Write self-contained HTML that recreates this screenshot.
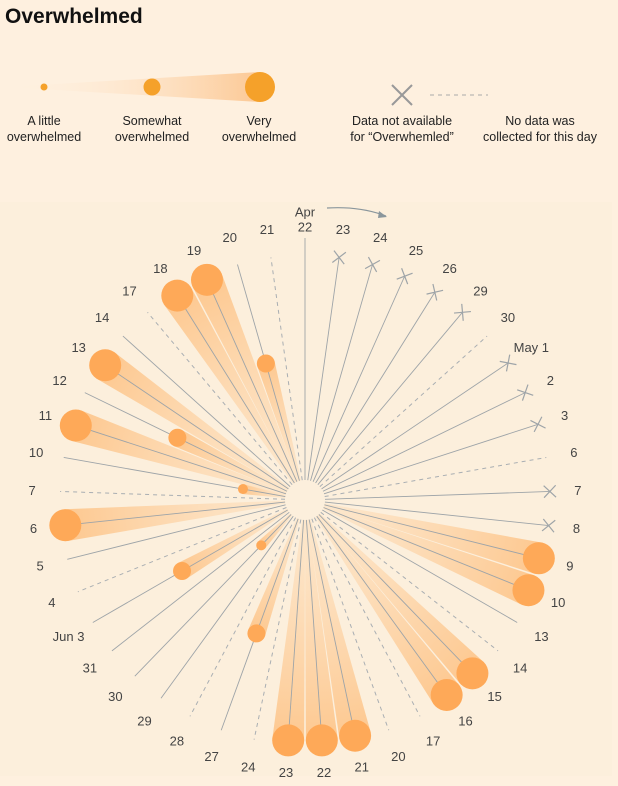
<!DOCTYPE html>
<html><head><meta charset="utf-8">
<style>
html,body{margin:0;padding:0;background:#fef0df;}
body{width:618px;height:786px;overflow:hidden;position:relative;font-family:"Liberation Sans",sans-serif;}
#title{position:absolute;left:5px;top:5px;font-size:21px;font-weight:bold;color:#111;}
.lg{position:absolute;font-size:12.5px;color:#222;text-align:center;line-height:16px;}
</style></head>
<body>
<div id="title">Overwhelmed</div>
<svg width="618" height="786" style="position:absolute;left:0;top:0">
<defs>
<linearGradient id="lgw" x1="0" y1="0" x2="1" y2="0">
<stop offset="0" stop-color="#fef0df" stop-opacity="0"/>
<stop offset="1" stop-color="#fcc894"/>
</linearGradient>
<linearGradient id="wg" x1="0" y1="1" x2="0" y2="0">
<stop offset="0" stop-color="#fde2c2" stop-opacity="0.6"/>
<stop offset="1" stop-color="#fdc890"/>
</linearGradient>
</defs>
<g>
<polygon points="5,87 260,72 260,102" fill="url(#lgw)"/>
<circle cx="44" cy="87" r="3.5" fill="#f5a12a"/>
<circle cx="152" cy="87" r="8.5" fill="#f5a12a"/>
<circle cx="260" cy="87" r="15" fill="#f5a12a"/>
<g stroke="#999" stroke-width="2"><line x1="392" y1="85" x2="412" y2="105"/><line x1="412" y1="85" x2="392" y2="105"/></g>
<line x1="430" y1="95" x2="488" y2="95" stroke="#aaa" stroke-width="1" stroke-dasharray="4,4"/>
</g>
<rect x="0" y="202" width="612" height="574" fill="#fcefdc"/>
<g id="chart"></g>
<path d="M327,208 Q360,206 386,216" fill="none" stroke="#8a969c" stroke-width="1.2"/>
<polygon points="387,217 379,211 378,218" fill="#8a969c"/>
</svg>
<div class="lg" style="left:0;top:113px;width:88px">A little<br>overwhelmed</div>
<div class="lg" style="left:107px;top:113px;width:90px">Somewhat<br>overwhelmed</div>
<div class="lg" style="left:214px;top:113px;width:90px">Very<br>overwhelmed</div>
<div class="lg" style="left:337px;top:113px;width:130px">Data not available<br>for “Overwhemled”</div>
<div class="lg" style="left:470px;top:113px;width:140px">No data was<br>collected for this day</div>
<script>
const dates=["22","23","24","25","26","29","30","May 1","2","3","6","7","8","9","10","13","14","15","16","17","20","21","22","23","24","27","28","29","30","31","Jun 3","4","5","6","7","10","11","12","13","14","17","18","19","20","21"];
const status=["ok","na","na","na","na","na","nd","na","na","na","nd","na","na","ok","ok","ok","nd","ok","ok","nd","nd","ok","ok","ok","nd","ok","nd","ok","ok","ok","ok","nd","ok","ok","nd","ok","ok","ok","ok","ok","nd","ok","ok","ok","nd"];
const levels=[0,0,0,0,0,0,0,0,0,0,0,0,0,3,3,0,0,3,3,0,0,3,3,3,0,2,0,0,1,0,2,0,0,3,0,1,3,2,3,0,0,3,3,2,0];
const levelRadius=[0,63,142,241];
const bubbleSize=[0,5,9,16];
const cx=305,cy=500,r0=20,rEnd=245,rLab=273;
const NS="http://www.w3.org/2000/svg";
const g=document.getElementById('chart');
function ang(i){return i*360/dates.length;}
function pt(i,r){const a=ang(i)*Math.PI/180;return [cx+r*Math.sin(a),cy-r*Math.cos(a)];}
function mk(t,attrs,parent){const e=document.createElementNS(NS,t);for(const k in attrs)e.setAttribute(k,attrs[k]);(parent||g).appendChild(e);return e;}
dates.forEach((d,i)=>{
  const lv=levels[i];
  if(status[i]!=="ok"||lv===0)return;
  const R=levelRadius[lv],w=bubbleSize[lv];
  const grp=mk('g',{transform:`translate(${cx},${cy}) rotate(${ang(i)})`});
  const p=mk('polygon',{points:`-1.5,${-r0} 1.5,${-r0} ${w},${-R} ${-w},${-R}`,fill:'url(#wg)'},grp);
  
  
});
dates.forEach((d,i)=>{
  const [x1,y1]=pt(i,r0);
  const st=status[i];
  const len=(i===0)?262:rEnd;
  const [x2,y2]=pt(i,len);
  const ln=mk('line',{x1,y1,x2,y2,stroke:st==="nd"?'#a9aeb2':'#9ea4a8','stroke-width':st==="nd"?1:0.9});
  if(st==="nd")ln.setAttribute('stroke-dasharray','4,4');
  
  
  if(st==="na"){
    const grp=mk('g',{transform:`translate(${x2},${y2}) rotate(${ang(i)})`,stroke:'#9ea4a8','stroke-width':1.2});
    mk('line',{x1:-6,y1:-6,x2:6,y2:6},grp);mk('line',{x1:6,y1:-6,x2:-6,y2:6},grp);
    
    
  }
  const lv=levels[i];
  if(st==="ok"&&lv>0){
    const [bx,by]=pt(i,levelRadius[lv]);
    const c=mk('circle',{cx:bx,cy:by,r:bubbleSize[lv],fill:'#fea958'});
    
    
  }
  const [lx,ly]=pt(i,rLab);
  const t=mk('text',{x:lx,y:ly+4.5,'text-anchor':'middle','font-size':'13','fill':'#444','font-family':'Liberation Sans, sans-serif'});
  t.textContent=d;
  
  
  if(i===0){
    const t2=mk('text',{x:lx,y:ly-10.5,'text-anchor':'middle','font-size':'13','fill':'#444','font-family':'Liberation Sans, sans-serif'});
    t2.textContent="Apr";
    
    
  }
});
const ctr=mk('circle',{cx,cy,r:r0-1,fill:'#fcefdc'});


</script>
</body></html>
